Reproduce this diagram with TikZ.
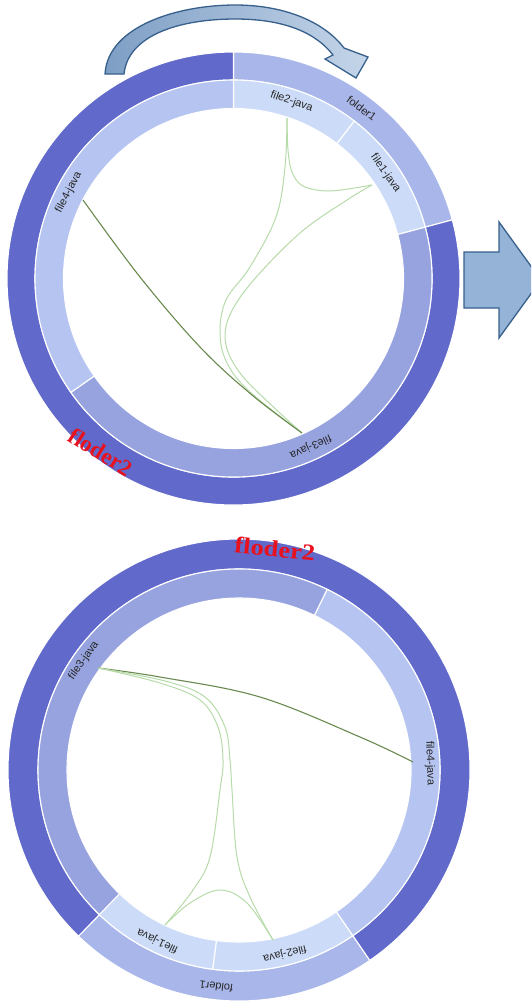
\documentclass[tikz,border=0pt]{standalone}
\usepackage{fontspec}
\usepackage{graphicx}
\setmainfont{Liberation Serif}
\newfontfamily\labfont{Liberation Sans}
\usetikzlibrary{calc}

\definecolor{ringdark}{HTML}{6169CB}
\definecolor{ringfolder}{HTML}{A9B6EA}
\definecolor{ringmid}{HTML}{97A3DF}
\definecolor{ringsoft}{HTML}{B5C4F0}
\definecolor{ringpale}{HTML}{CCDCF8}
\definecolor{linkdark}{HTML}{6A8A50}
\definecolor{linklight}{HTML}{B8DBAA}
\definecolor{arrowfill}{HTML}{95B3D7}
\definecolor{arrowedge}{HTML}{37608C}
\definecolor{tagred}{HTML}{E8111E}

% annular sector: outer radius, inner radius, start angle, end angle, colour
\newcommand\annsector[5]{%
  \fill[#5,draw=white,line width=1.1pt]
    (#3:#1) arc[start angle=#3,end angle=#4,radius=#1]
    -- (#4:#2) arc[start angle=#4,end angle=#3,radius=#2] -- cycle;}

\tikzset{
  lab/.style={font=\labfont\fontsize{11}{13}\selectfont, text=black!85, inner sep=0pt},
  tag/.style={font=\bfseries\fontsize{23}{26}\selectfont, text=tagred, inner sep=0pt},
  darklink/.style={draw=linkdark, line width=1.1pt},
  lightlink/.style={draw=linklight, line width=1pt},
  blockarrow/.style={draw=arrowedge, line width=1.3pt, line join=miter},
}

\begin{document}
\begin{tikzpicture}[x=1pt,y=1pt]
\useasboundingbox (0,0) rectangle (531,-1002);
\fill[white] (0,0) rectangle (531,-1002);
\clip (0,0) rectangle (531,-1002);

% ---------- upper chord ring ----------
\begin{scope}[shift={(233.5,-278.5)}]
  \annsector{226.5}{198.5}{15}{90}{ringfolder}
  \annsector{226.5}{198.5}{90}{375}{ringdark}
  \annsector{198.5}{170}{52.5}{90}{ringpale}
  \annsector{198.5}{170}{15}{52.5}{ringpale}
  \annsector{198.5}{170}{-145}{15}{ringmid}
  \annsector{198.5}{170}{90}{215}{ringsoft}
  \node[lab,rotate=-37]  (t-folder1) at (53:213) {folder1};
  \node[lab,rotate=-19]  (t-file2) at (71.8:186) {file2-java};
  \node[lab,rotate=-55]  (t-file1) at (34.7:185) {file1-java};
  \node[lab,rotate=62.4] (t-file4) at (152.4:186) {file4-java};
  \node[lab,rotate=204.6](t-file3) at (-65.4:185) {file3-java};
\end{scope}
\coordinate (ta) at (287,-118);
\coordinate (tb) at (372,-185);
\coordinate (tc) at (302,-433);
\coordinate (td) at (83,-200);
\draw[lightlink] plot[smooth,tension=0.55] coordinates
  {(ta) (288,-150) (292,-172) (303,-186) (330,-191) (tb)};
\draw[lightlink] plot[smooth,tension=0.6] coordinates
  {(ta) (285,-167) (276,-217) (250,-267) (226,-300) (220,-333) (227,-363) (250,-392) (tc)};
\draw[lightlink] plot[smooth,tension=0.6] coordinates
  {(tb) (347,-200) (300,-233) (252,-282) (229,-317) (226,-345) (240,-373) (267,-401) (tc)};
\draw[darklink] plot[smooth,tension=0.6] coordinates
  {(td) (140,-277) (200,-347) (252,-395) (tc)};
\node[tag,rotate=-32] (t-tag) at (101,-452) {floder2};

% curved arrow over the upper ring
\draw[blockarrow, left color=arrowfill!75!arrowedge, right color=arrowfill!55!white]
  (105,-74) .. controls (108,-25) and (180,-5) .. (235,-5)
  .. controls (288,-5) and (326,-24) .. (344,-48)
  -- (368,-57) -- (356,-78) -- (325,-59) -- (333,-55)
  .. controls (316,-33) and (285,-19) .. (235,-19)
  .. controls (180,-19) and (128,-35) .. (124,-74) -- cycle;

% block arrow on the right
\draw[blockarrow, fill=arrowfill]
  (464,-252) -- (499,-252) -- (499,-222) -- (541,-280) -- (499,-338)
  -- (499,-308) -- (464,-308) -- cycle;

% ---------- lower chord ring ----------
\begin{scope}[shift={(239,-770)}]
  \annsector{231}{201}{-134}{-55.5}{ringfolder}
  \annsector{231}{201}{-55.5}{226}{ringdark}
  \annsector{201}{172}{-134}{-97.5}{ringpale}
  \annsector{201}{172}{-97.5}{-55.5}{ringpale}
  \annsector{201}{172}{-55.5}{64}{ringsoft}
  \annsector{201}{172}{64}{226}{ringmid}
  \node[lab,rotate=54.8]  (b-file3) at (144.8:190) {file3-java};
  \node[lab,rotate=-88]   (b-file4) at (2:191) {file4-java};
  \node[lab,rotate=154.5] (b-file1) at (-115.5:189) {file1-java};
  \node[lab,rotate=194]   (b-file2) at (-76:189) {file2-java};
  \node[lab,rotate=173]   (b-folder1) at (-96:218) {folder1};
\end{scope}
\coordinate (ba) at (98,-668);
\coordinate (bb) at (413,-762);
\coordinate (bc) at (165,-925);
\coordinate (bd) at (273,-940);
\draw[darklink] plot[smooth,tension=0.6] coordinates
  {(ba) (160,-677) (260,-697) (360,-737) (bb)};
\draw[lightlink] plot[smooth,tension=0.6] coordinates
  {(ba) (160,-683) (200,-700) (218,-727) (223,-760) (220,-790) (210,-857) (193,-890) (bc)};
\draw[lightlink] plot[smooth,tension=0.6] coordinates
  {(ba) (165,-681) (205,-697) (225,-727) (230,-760) (232,-790) (237,-857) (250,-897) (bd)};
\draw[lightlink] plot[smooth,tension=0.6] coordinates
  {(bc) (190,-903) (220,-890) (247,-903) (bd)};
\node[tag,rotate=-6] (b-tag) at (275,-549) {\scalebox{1.15}[1]{floder2}};

\end{tikzpicture}
\end{document}
